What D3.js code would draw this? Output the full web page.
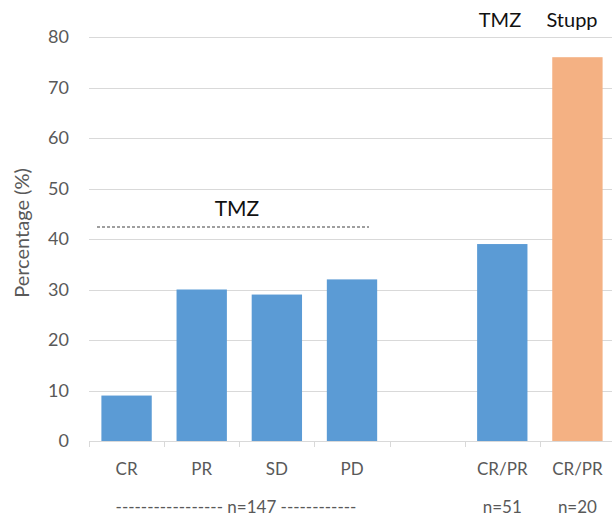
<!DOCTYPE html>
<html><head><meta charset="utf-8">
<script src="https://cdn.jsdelivr.net/npm/d3@7"></script>
<style>body{margin:0;background:#fff}svg{display:block}text{font-family:Lato,"Open Sans",sans-serif}</style>
</head><body><svg id="c" width="612" height="519"></svg>
<script>
const categories = ["CR","PR","SD","PD","","CR/PR","CR/PR "];
const values = [9,30,29,32,null,39,76];
const groups = ["TMZ","TMZ","TMZ","TMZ","","TMZ","Stupp"];
const yTicks = [0,10,20,30,40,50,60,70,80];
const nLabels = ["----------------- n=147 ------------","n=51","n=20"];
const colors = {TMZ:"#5B9BD5", Stupp:"#F4B183"};

const svg = d3.select("#c");
const x = d3.scaleBand().domain(categories).range([89,615]).paddingInner(0.33).paddingOuter(0.165);
const y = d3.scaleLinear().domain([0,80]).range([441,37]);
const step = x.step();

// gridlines
svg.append("g").selectAll("line").data(yTicks.filter(d=>d>0)).join("line")
  .attr("x1",89).attr("x2",612).attr("y1",d=>Math.round(y(d))+0.5).attr("y2",d=>Math.round(y(d))+0.5)
  .attr("stroke","#d9d9d9").attr("stroke-width",1);

// y labels
svg.append("g").selectAll("text").data(yTicks).join("text")
  .attr("x",69).attr("y",d=>y(d)).attr("dy","0.35em").attr("text-anchor","end")
  .attr("font-size",18).attr("fill","#595959").text(d=>d);

svg.append("text").attr("transform","translate(22,233) rotate(-90)")
  .attr("text-anchor","middle").attr("dy","0.35em").attr("font-size",20).attr("fill","#595959")
  .text("Percentage (%)");

// bars
const data = categories.map((c,i)=>({c,v:values[i],g:groups[i]})).filter(d=>d.v!=null);
svg.append("g").selectAll("rect").data(data).join("rect")
  .attr("x",d=>x(d.c)).attr("width",x.bandwidth())
  .attr("y",d=>y(d.v)).attr("height",d=>y(0)-y(d.v))
  .attr("fill",d=>colors[d.g]);

// x axis
svg.append("line").attr("x1",89).attr("x2",612).attr("y1",441.5).attr("y2",441.5).attr("stroke","#d9d9d9");
svg.append("g").selectAll("line").data(d3.range(categories.length)).join("line")
  .attr("x1",i=>Math.round(89+i*step)+0.5).attr("x2",i=>Math.round(89+i*step)+0.5).attr("y1",441).attr("y2",447).attr("stroke","#d9d9d9");
svg.append("g").selectAll("text").data(categories).join("text")
  .attr("x",d=>x(d)+x.bandwidth()/2).attr("y",469).attr("dy","0.35em").attr("text-anchor","middle")
  .attr("font-size",17).attr("fill","#595959").text(d=>d.trim());

// n labels
const nPos = [ 236, x("CR/PR")+x.bandwidth()/2, x("CR/PR ")+x.bandwidth()/2 ];
svg.append("g").selectAll("text").data(nLabels).join("text")
  .attr("x",(d,i)=>nPos[i]).attr("y",507).attr("dy","0.35em").attr("text-anchor","middle")
  .attr("font-size",17).attr("fill","#595959").text(d=>d);

// TMZ annotation
svg.append("line").attr("x1",97).attr("x2",369).attr("y1",227).attr("y2",227)
  .attr("stroke","#404040").attr("stroke-width",1.2).attr("stroke-dasharray","3,2");
svg.append("text").attr("x",237).attr("y",209).attr("dy","0.35em").attr("text-anchor","middle")
  .attr("font-size",21).attr("fill","#111").text("TMZ");

// top labels
svg.append("text").attr("x",500).attr("y",20).attr("dy","0.35em").attr("text-anchor","middle")
  .attr("font-size",20).attr("fill","#111").text("TMZ");
svg.append("text").attr("x",572).attr("y",20).attr("dy","0.35em").attr("text-anchor","middle")
  .attr("font-size",20).attr("fill","#111").text("Stupp");
</script></body></html>
